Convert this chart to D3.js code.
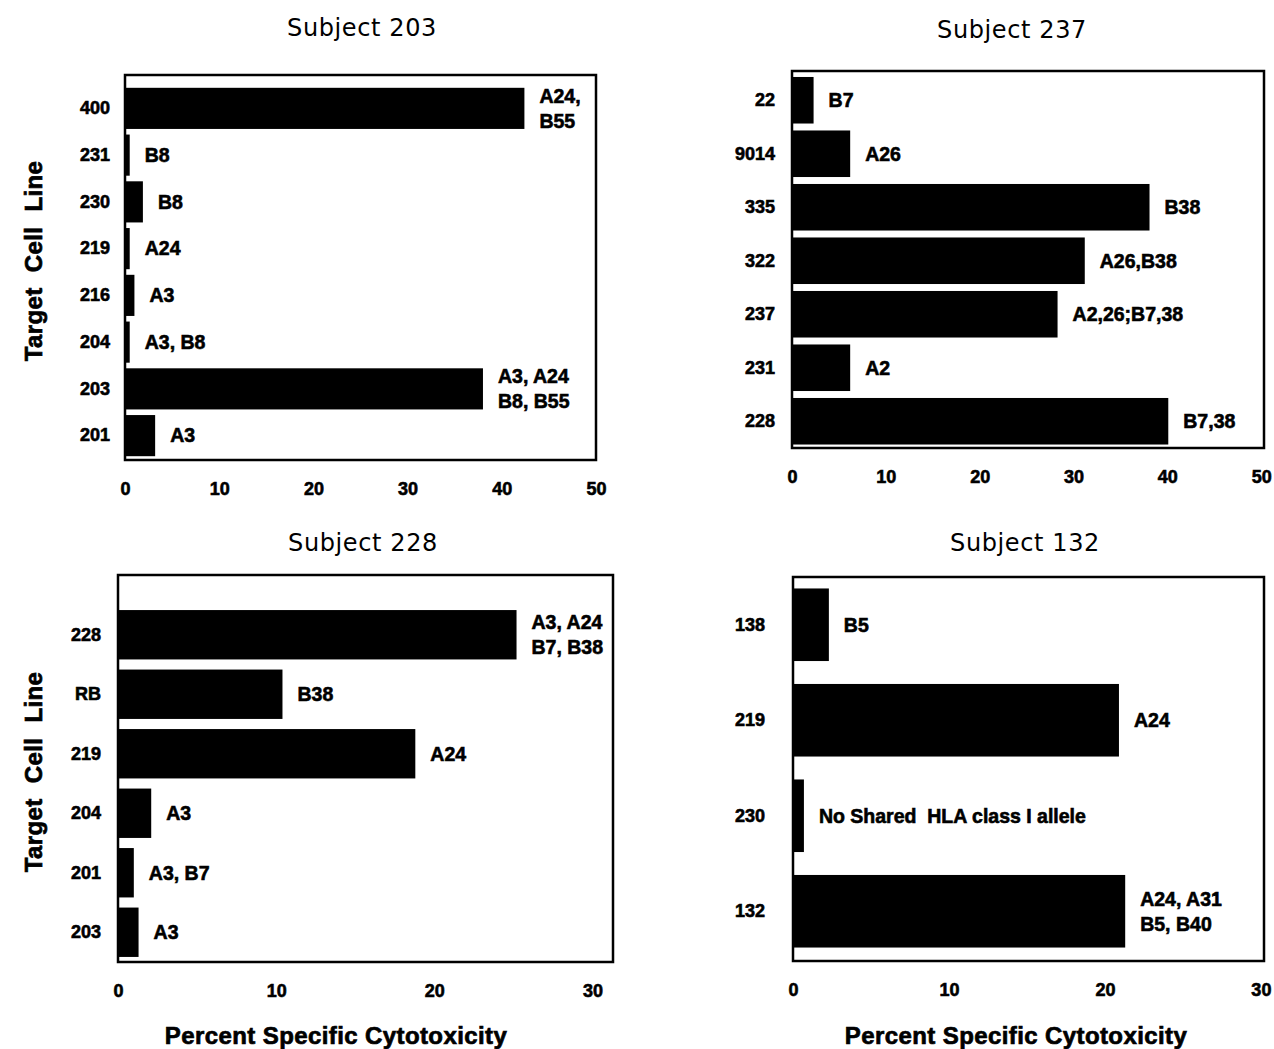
<!DOCTYPE html>
<html>
<head>
<meta charset="utf-8">
<script src="https://cdn.jsdelivr.net/npm/d3@7"></script>
<style>
  html, body { margin: 0; padding: 0; background: #fff; }
  svg { display: block; }
  .tick text, .bar-label { font-family: "Liberation Sans", Arial, sans-serif; font-weight: bold; fill: #000; stroke: #000; stroke-width: 0.6px; }
  .panel-title { font-family: "DejaVu Sans", sans-serif; font-size: 24px; fill: #000; }
  .axis-title { font-family: "Liberation Sans", Arial, sans-serif; font-weight: bold; font-size: 24px; letter-spacing: 0.4px; fill: #000; stroke: #000; stroke-width: 0.7px; }
</style>
</head>
<body>
<svg id="chart" width="1274" height="1049"></svg>
<script>
// Subject 203
const cells203 = ["400", "231", "230", "219", "216", "204", "203", "201"];
const values203 = [42.4, 0.5, 1.9, 0.5, 1.0, 0.5, 38.0, 3.2];
const alleles203 = [["A24,", "B55"], ["B8"], ["B8"], ["A24"], ["A3"], ["A3, B8"], ["A3, A24", "B8, B55"], ["A3"]];
const ticks203 = [0, 10, 20, 30, 40, 50];

// Subject 237
const cells237 = ["22", "9014", "335", "322", "237", "231", "228"];
const values237 = [2.3, 6.2, 38.1, 31.2, 28.3, 6.2, 40.1];
const alleles237 = [["B7"], ["A26"], ["B38"], ["A26,B38"], ["A2,26;B7,38"], ["A2"], ["B7,38"]];
const ticks237 = [0, 10, 20, 30, 40, 50];

// Subject 228
const cells228 = ["228", "RB", "219", "204", "201", "203"];
const values228 = [25.2, 10.4, 18.8, 2.1, 1.0, 1.3];
const alleles228 = [["A3, A24", "B7, B38"], ["B38"], ["A24"], ["A3"], ["A3, B7"], ["A3"]];
const ticks228 = [0, 10, 20, 30];

// Subject 132
const cells132 = ["138", "219", "230", "132"];
const values132 = [2.3, 20.9, 0.7, 21.3];
const alleles132 = [["B5"], ["A24"], ["No Shared  HLA class I allele"], ["A24, A31", "B5, B40"]];
const ticks132 = [0, 10, 20, 30];

const yAxisTitle = "Target Cell Line";
const xAxisTitle = "Percent Specific Cytotoxicity";

const panels = [
  { title: "Subject 203", cells: cells203, values: values203, alleles: alleles203, ticks: ticks203, xMax: 50,
    box: { x0: 125, x1: 596, y0: 75, y1: 460 }, band: [85, 459], pad: 0.12, tickGap: 15,
    titleX: 362, titleY: 28, yTitle: { x: 33, y: 261 } },
  { title: "Subject 237", cells: cells237, values: values237, alleles: alleles237, ticks: ticks237, xMax: 50.3,
    box: { x0: 792, x1: 1264, y0: 71, y1: 448 }, band: [73.5, 448], pad: 0.13, tickGap: 17,
    titleX: 1012, titleY: 30 },
  { title: "Subject 228", cells: cells228, values: values228, alleles: alleles228, ticks: ticks228, xMax: 31.3,
    box: { x0: 118, x1: 613, y0: 575, y1: 962 }, band: [605, 962], pad: 0.17, tickGap: 17,
    titleX: 363, titleY: 543, yTitle: { x: 33, y: 772 }, xTitle: { x: 336, y: 1035 } },
  { title: "Subject 132", cells: cells132, values: values132, alleles: alleles132, ticks: ticks132, xMax: 30.2,
    box: { x0: 793, x1: 1264, y0: 577, y1: 961 }, band: [577, 959], pad: 0.24, tickGap: 28,
    titleX: 1025, titleY: 543, xTitle: { x: 1016, y: 1035 } }
];

const svg = d3.select("#chart");
svg.append("rect").attr("width", 1274).attr("height", 1049).attr("fill", "#fff");

panels.forEach(p => {
  const g = svg.append("g");
  const rows = p.cells.map((c, i) => ({ cell: c, value: p.values[i], alleles: p.alleles[i] }));

  const x = d3.scaleLinear().domain([0, p.xMax]).range([p.box.x0, p.box.x1]);
  const y = d3.scaleBand().domain(p.cells).range(p.band).paddingInner(p.pad).paddingOuter(p.pad / 2);

  // bars
  g.selectAll("rect.bar").data(rows).join("rect")
    .attr("class", "bar")
    .attr("x", x(0))
    .attr("y", d => y(d.cell))
    .attr("width", d => x(d.value) - x(0))
    .attr("height", y.bandwidth())
    .attr("fill", "#000");

  // frame
  g.append("rect")
    .attr("x", p.box.x0).attr("y", p.box.y0)
    .attr("width", p.box.x1 - p.box.x0).attr("height", p.box.y1 - p.box.y0)
    .attr("fill", "none").attr("stroke", "#000").attr("stroke-width", 2.5);

  // shared HLA allele labels beside each bar
  const lab = g.selectAll("text.bar-label").data(rows).join("text")
    .attr("class", "bar-label")
    .attr("font-size", 19.5)
    .style("white-space", "pre")
    .attr("x", d => x(d.value) + 15)
    .attr("y", d => y(d.cell) + y.bandwidth() / 2 - (d.alleles.length - 1) * 12.5);
  lab.selectAll("tspan").data(d => d.alleles.map((t, i) => ({ t, i, d }))).join("tspan")
    .attr("x", o => x(o.d.value) + 15)
    .attr("dy", o => o.i === 0 ? "0.35em" : 25)
    .text(o => o.t);

  // x axis
  const xAxis = g.append("g")
    .attr("transform", `translate(0,${p.box.y1})`)
    .call(d3.axisBottom(x).tickValues(p.ticks).tickSize(0).tickPadding(22).tickFormat(d3.format("d")));
  xAxis.select(".domain").remove();
  xAxis.selectAll("text").attr("font-size", 18);

  // y axis
  const yAxis = g.append("g")
    .attr("transform", `translate(${p.box.x0},0)`)
    .call(d3.axisLeft(y).tickSize(0).tickPadding(p.tickGap));
  yAxis.select(".domain").remove();
  yAxis.selectAll("text").attr("font-size", 18);

  // panel title
  g.append("text").attr("class", "panel-title")
    .attr("x", p.titleX).attr("y", p.titleY)
    .attr("text-anchor", "middle").attr("dominant-baseline", "central")
    .style("letter-spacing", "0.6px")
    .text(p.title);

  if (p.yTitle) {
    g.append("text").attr("class", "axis-title")
      .attr("transform", `translate(${p.yTitle.x},${p.yTitle.y}) rotate(-90)`)
      .attr("text-anchor", "middle").attr("dominant-baseline", "central")
      .style("word-spacing", "8px")
      .text(yAxisTitle);
  }
  if (p.xTitle) {
    g.append("text").attr("class", "axis-title")
      .attr("x", p.xTitle.x).attr("y", p.xTitle.y)
      .attr("text-anchor", "middle").attr("dominant-baseline", "central")
      .text(xAxisTitle);
  }
});
</script>
</body>
</html>
